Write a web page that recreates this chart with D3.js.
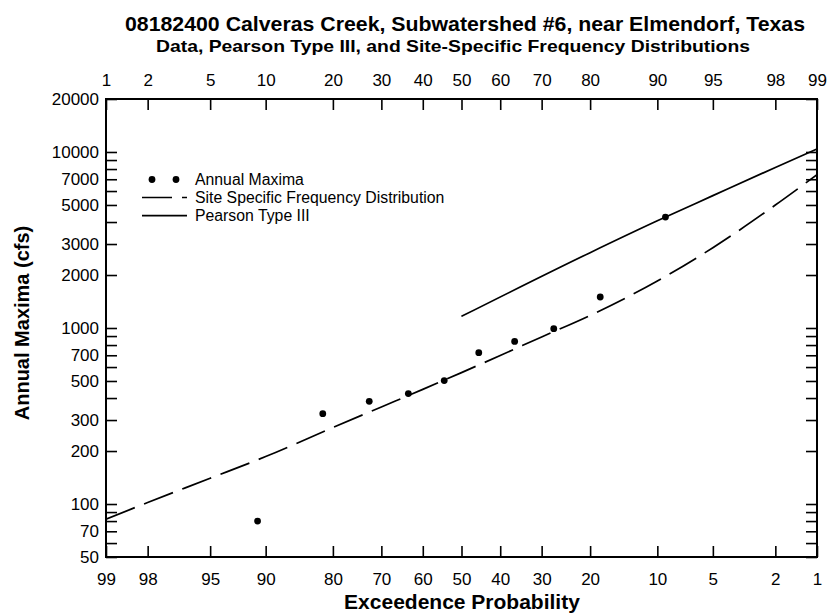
<!DOCTYPE html>
<html>
<head>
<meta charset="utf-8">
<script src="https://cdn.jsdelivr.net/npm/d3@7"></script>
<style>
  html, body { margin: 0; padding: 0; background: #fff; }
  svg { display: block; }
  text { font-family: "Liberation Sans", Arial, Helvetica, sans-serif; fill: #000; }
</style>
</head>
<body>
<svg id="chart" width="830" height="615"></svg>
<script>
// ---------------- data ----------------
const titleText = "08182400 Calveras Creek, Subwatershed #6, near Elmendorf, Texas";
const subtitleText = "Data, Pearson Type III, and Site-Specific Frequency Distributions";
const xAxisTitle = "Exceedence Probability";
const yAxisTitle = "Annual Maxima (cfs)";

// Annual maxima (Weibull plotting positions, exceedance %)
const obsExceedance = [90.9, 81.8, 72.7, 63.6, 54.5, 45.5, 36.4, 27.3, 18.2, 9.1];
const obsMaxima     = [80, 326, 383, 424, 503, 724, 839, 991, 1500, 4270];

// Site specific frequency distribution
const sseExceedance = [99, 98, 95, 90, 80, 70, 60, 50, 40, 30, 20, 10, 5, 2, 1];
const sseValues     = [82, 102, 140, 186, 272, 356, 448, 558, 698, 890, 1179, 1849, 2858, 4995, 7430];

// Pearson Type III
const p3Exceedance = [50, 20, 10, 5, 2, 1];
const p3Values     = [1164, 2680, 4065, 5650, 8170, 10400];

// tick labels
const bottomTicks = [99, 98, 95, 90, 80, 70, 60, 50, 40, 30, 20, 10, 5, 2, 1];
const topTicks    = [1, 2, 5, 10, 20, 30, 40, 50, 60, 70, 80, 90, 95, 98, 99];
const yLabelTicks = [50, 70, 100, 200, 300, 500, 700, 1000, 2000, 3000, 5000, 7000, 10000, 20000];
const yMinorTicks = [60, 80, 90, 400, 600, 800, 900, 4000, 6000, 8000, 9000];

const legendLabels = ["Annual Maxima", "Site Specific Frequency Distribution", "Pearson Type III"];

// ---------------- helpers ----------------
function probit(p) {
  const a=[-3.969683028665376e+01,2.209460984245205e+02,-2.759285104469687e+02,1.383577518672690e+02,-3.066479806614716e+01,2.506628277459239e+00];
  const b=[-5.447609879822406e+01,1.615858368580409e+02,-1.556989798598866e+02,6.680131188771972e+01,-1.328068155288572e+01];
  const c=[-7.784894002430293e-03,-3.223964580411365e-01,-2.400758277161838e+00,-2.549732539343734e+00,4.374664141464968e+00,2.938163982698783e+00];
  const d=[7.784695709041462e-03,3.224671290700398e-01,2.445134137142996e+00,3.754408661907416e+00];
  const pl = 0.02425, ph = 1 - pl;
  let q, r;
  if (p < pl) {
    q = Math.sqrt(-2 * Math.log(p));
    return (((((c[0]*q+c[1])*q+c[2])*q+c[3])*q+c[4])*q+c[5]) / ((((d[0]*q+d[1])*q+d[2])*q+d[3])*q+1);
  }
  if (p <= ph) {
    q = p - 0.5; r = q * q;
    return (((((a[0]*r+a[1])*r+a[2])*r+a[3])*r+a[4])*r+a[5])*q / (((((b[0]*r+b[1])*r+b[2])*r+b[3])*r+b[4])*r+1);
  }
  q = Math.sqrt(-2 * Math.log(1 - p));
  return -(((((c[0]*q+c[1])*q+c[2])*q+c[3])*q+c[4])*q+c[5]) / ((((d[0]*q+d[1])*q+d[2])*q+d[3])*q+1);
}

// ---------------- layout ----------------
const L = 106, R = 817, T = 99, B = 557;
const svg = d3.select("#chart");

const zLin = d3.scaleLinear().domain([probit(0.01), probit(0.99)]).range([L, R]);
function makeProbScale(exceedance) {
  const f = v => zLin(probit(exceedance ? 1 - v / 100 : v / 100));
  f.range = () => zLin.range();
  f.domain = () => exceedance ? [99, 1] : [1, 99];
  f.copy = () => f;
  return f;
}
const xE = makeProbScale(true);   // exceedance (bottom)
const xN = makeProbScale(false);  // non-exceedance (top)
const y = d3.scaleLog().domain([50, 20000]).range([B, T]);

const tickLen = 11;
const tickFont = "17px";

// bottom axis
const gB = svg.append("g").attr("transform", `translate(0,${B})`)
  .call(d3.axisBottom(xE).tickValues(bottomTicks).tickFormat(d3.format("d"))
    .tickSizeInner(-tickLen).tickSizeOuter(0).tickPadding(16));
// top axis
const gT = svg.append("g").attr("transform", `translate(0,${T})`)
  .call(d3.axisTop(xN).tickValues(topTicks).tickFormat(d3.format("d"))
    .tickSizeInner(-tickLen).tickSizeOuter(0).tickPadding(13));
// left axis
const yAll = yLabelTicks.concat(yMinorTicks).sort((a, b) => a - b);
const gL = svg.append("g").attr("transform", `translate(${L},0)`)
  .call(d3.axisLeft(y).tickValues(yAll)
    .tickFormat(d => yLabelTicks.includes(d) ? String(d) : "")
    .tickSizeInner(-tickLen).tickSizeOuter(0).tickPadding(7));
// right axis
const gR = svg.append("g").attr("transform", `translate(${R},0)`)
  .call(d3.axisRight(y).tickValues(yAll).tickFormat("")
    .tickSizeInner(-tickLen).tickSizeOuter(0));

[gB, gT, gL, gR].forEach(g => {
  g.select(".domain").remove();
  g.selectAll(".tick line").attr("stroke", "#000").attr("stroke-width", 1.6);
  g.selectAll(".tick text").attr("font-size", tickFont)
    .attr("font-family", "'Liberation Sans', Arial, sans-serif").attr("fill", "#000");
});

// frame
svg.append("rect").attr("x", L).attr("y", T).attr("width", R - L).attr("height", B - T)
  .attr("fill", "none").attr("stroke", "#000").attr("stroke-width", 2);

// clip
svg.append("clipPath").attr("id", "plotclip").append("rect")
  .attr("x", L).attr("y", T).attr("width", R - L).attr("height", B - T);

const plot = svg.append("g").attr("clip-path", "url(#plotclip)");

const sseData = sseExceedance.map((e, i) => ({ e, v: sseValues[i] }));
const p3Data = p3Exceedance.map((e, i) => ({ e, v: p3Values[i] }));
const obsData = obsExceedance.map((e, i) => ({ e, v: obsMaxima[i] }));

const line = d3.line().x(d => xE(d.e)).y(d => y(d.v)).curve(d3.curveMonotoneX);

plot.append("path").datum(sseData).attr("d", line)
  .attr("fill", "none").attr("stroke", "#000").attr("stroke-width", 1.7)
  .attr("stroke-dasharray", "31,10");
plot.append("path").datum(p3Data).attr("d", line)
  .attr("fill", "none").attr("stroke", "#000").attr("stroke-width", 1.7);
plot.selectAll("circle.obs").data(obsData).enter().append("circle")
  .attr("class", "obs").attr("cx", d => xE(d.e)).attr("cy", d => y(d.v))
  .attr("r", 3.4).attr("fill", "#000");

// legend
const lg = svg.append("g");
const legY = [179.5, 197.5, 215.7];
lg.selectAll("circle").data([152, 176]).enter().append("circle")
  .attr("cx", d => d).attr("cy", legY[0]).attr("r", 3.4).attr("fill", "#000");
lg.append("line").attr("x1", 142).attr("x2", 187).attr("y1", legY[1]).attr("y2", legY[1])
  .attr("stroke", "#000").attr("stroke-width", 1.7).attr("stroke-dasharray", "30,10");
lg.append("line").attr("x1", 142).attr("x2", 187).attr("y1", legY[2]).attr("y2", legY[2])
  .attr("stroke", "#000").attr("stroke-width", 1.7);
lg.selectAll("text").data(legendLabels).enter().append("text")
  .attr("x", 195).attr("y", (d, i) => legY[i]).attr("dy", "0.35em")
  .attr("font-size", "15.8px").text(d => d);

// titles
svg.append("text").attr("x", 465).attr("y", 31).attr("text-anchor", "middle")
  .attr("font-size", "20.5px").attr("font-weight", "bold")
  .attr("textLength", 680).attr("lengthAdjust", "spacingAndGlyphs").text(titleText);
svg.append("text").attr("x", 453).attr("y", 52).attr("text-anchor", "middle")
  .attr("font-size", "17px").attr("font-weight", "bold")
  .attr("textLength", 594).attr("lengthAdjust", "spacingAndGlyphs").text(subtitleText);
svg.append("text").attr("x", 462).attr("y", 609).attr("text-anchor", "middle")
  .attr("font-size", "21px").attr("font-weight", "bold").text(xAxisTitle);
svg.append("text").attr("transform", "translate(29,323) rotate(-90)").attr("text-anchor", "middle")
  .attr("font-size", "20px").attr("font-weight", "bold").text(yAxisTitle);
</script>
</body>
</html>
